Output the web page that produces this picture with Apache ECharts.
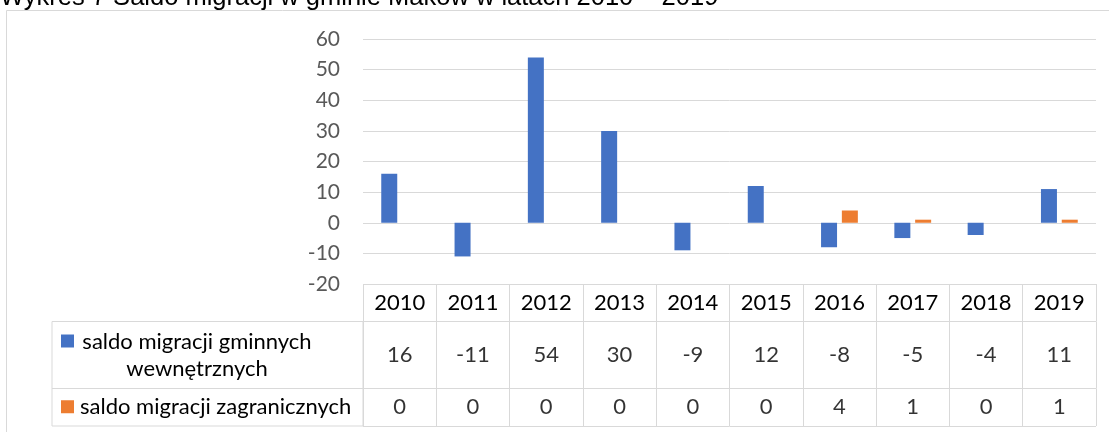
<!DOCTYPE html>
<html>
<head>
<meta charset="utf-8">
<script src="https://cdn.jsdelivr.net/npm/echarts@6/dist/echarts.min.js"></script>
<style>
  html, body { margin: 0; padding: 0; background: #fff; }
  #chart { width: 1109px; height: 432px; }
</style>
</head>
<body>
<div id="chart"></div>
<script>
// data
const years = ['2010', '2011', '2012', '2013', '2014', '2015', '2016', '2017', '2018', '2019'];
const internalSaldo = [16, -11, 54, 30, -9, 12, -8, -5, -4, 11];
const foreignSaldo = [0, 0, 0, 0, 0, 0, 4, 1, 0, 1];
const seriesNames = ['saldo migracji gminnych wewnętrznych', 'saldo migracji zagranicznych'];
const legendLines = [['saldo migracji gminnych', 'wewnętrznych'], ['saldo migracji zagranicznych']];
const colors = ['#4472C4', '#ED7D31'];
const title = 'Wykres 7 Saldo migracji w gminie Maków w latach 2010 – 2019';

const FONT = 'Lato';
const GRID_COLOR = '#d9d9d9';

// layout
const plotLeft = 363, plotWidth = 733;
const rows = [
  { top: 39, height: 245 },    // plot
  { top: 284, height: 37.5 },  // year header
  { top: 321.5, height: 67 },  // internal row
  { top: 388.5, height: 37.5 } // foreign row
];

const chart = echarts.init(document.getElementById('chart'), null, { renderer: 'canvas' });

const grids = rows.map(r => ({ left: plotLeft, width: plotWidth, top: r.top, height: r.height }));

const xAxes = rows.map((r, i) => ({
  type: 'category',
  gridIndex: i,
  data: years,
  axisLine: { show: false },
  axisTick: { show: false },
  axisLabel: i === 0 ? {
    show: true, margin: rows[1].height / 2, verticalAlign: 'middle',
    fontFamily: FONT, fontSize: 22, color: '#000'
  } : { show: false },
  splitLine: { show: i > 0, lineStyle: { color: GRID_COLOR, width: 1 } }
}));

const yAxes = rows.map((r, i) => i === 0 ? {
  type: 'value', gridIndex: 0, min: -20, max: 60, interval: 10,
  axisLine: { show: false }, axisTick: { show: false },
  axisLabel: { margin: 23, fontFamily: FONT, fontSize: 21, color: '#595959' },
  splitLine: { lineStyle: { color: GRID_COLOR, width: 1 } }
} : {
  type: 'value', gridIndex: i, min: 0, max: 1, interval: 1,
  axisLine: { show: false }, axisTick: { show: false },
  axisLabel: { show: false },
  splitLine: { show: true, lineStyle: { color: GRID_COLOR, width: 1 } }
});

function tableRow(values, gridIndex) {
  return {
    type: 'scatter',
    xAxisIndex: gridIndex, yAxisIndex: gridIndex,
    symbolSize: 0,
    silent: true,
    data: values.map((v, i) => [years[i], 0.5, v]),
    label: {
      show: true, position: 'inside',
      formatter: p => String(p.value[2]),
      fontFamily: FONT, fontSize: 22, color: '#000'
    }
  };
}

// legend column of the data table
const legendGraphics = [
  { type: 'rect', shape: { x: 52, y: rows[2].top, width: plotLeft - 52, height: rows[2].height + rows[3].height },
    style: { fill: 'none', stroke: GRID_COLOR, lineWidth: 1 } },
  { type: 'line', shape: { x1: 52, y1: rows[3].top, x2: plotLeft, y2: rows[3].top },
    style: { stroke: GRID_COLOR, lineWidth: 1 } }
];
seriesNames.forEach((name, k) => {
  const r = rows[2 + k];
  const cy = r.top + r.height / 2;
  const lines = legendLines[k];
  const lh = 27;
  const firstY = cy - (lines.length - 1) * lh / 2;
  const multi = lines.length > 1;
  legendGraphics.push({
    type: 'rect', shape: { x: 61, y: firstY - 7, width: 13, height: 13 },
    style: { fill: colors[k] }
  });
  legendGraphics.push({
    type: 'text', x: multi ? 197 : 80, y: cy,
    style: {
      text: lines.join('\n'), fontFamily: FONT, fontSize: 22, fill: '#000',
      align: multi ? 'center' : 'left', verticalAlign: 'middle', lineHeight: lh
    }
  });
});

chart.setOption({
  backgroundColor: '#fff',
  animation: false,
  grid: grids,
  xAxis: xAxes,
  yAxis: yAxes,
  graphic: [
    { type: 'rect', z: 0, shape: { x: 6.5, y: 10.5, width: 1300, height: 600 },
      style: { fill: 'none', stroke: GRID_COLOR, lineWidth: 1 } },
    { type: 'text', x: 0, y: -2,
      style: { text: title, fontFamily: 'Liberation Sans', fontSize: 25.5, fill: '#000', verticalAlign: 'middle' } },
    ...legendGraphics
  ],
  series: [
    { name: seriesNames[0], type: 'bar', xAxisIndex: 0, yAxisIndex: 0, data: internalSaldo,
      barWidth: 16, barGap: '30%', itemStyle: { color: colors[0] } },
    { name: seriesNames[1], type: 'bar', xAxisIndex: 0, yAxisIndex: 0, data: foreignSaldo,
      barWidth: 16, barGap: '30%', itemStyle: { color: colors[1] } },
    tableRow(internalSaldo, 2),
    tableRow(foreignSaldo, 3)
  ]
});
</script>
</body>
</html>
